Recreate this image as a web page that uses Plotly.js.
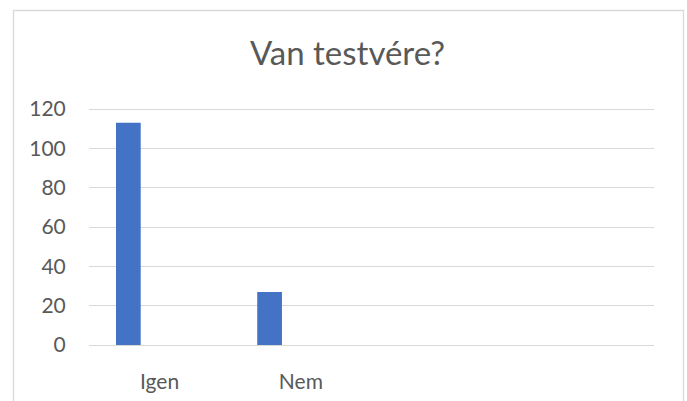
<!DOCTYPE html>
<html>
<head>
<meta charset="utf-8">
<script src="https://cdn.plot.ly/plotly-3.0.1.min.js"></script>
<style>
html,body{margin:0;padding:0;background:#fff;}
#chart{width:687px;height:401px;}
</style>
</head>
<body>
<div id="chart"></div>
<script>
// Data
var categories = ['Igen', 'Nem'];
var values = [113, 27];
var yTickValues = [0, 20, 40, 60, 80, 100, 120];
var chartTitle = 'Van testvére?';

var W = 687, H = 401;
var L = 89, R = 654, T = 107, B = 347;   // plot area (padded 2px top/bottom)
var pad = 2 / ((345 - 109) / 120);        // 2px in data units
var pw = R - L, ph = B - T;
function px2x(p){ return (p - L) / pw; }
function px2y(p){ return (B - p) / ph; }

var trace = {
  type: 'bar',
  x: categories,
  y: values,
  marker: {color: '#4472C4'},
  width: 0.175,
  offset: -0.309,
  hoverinfo: 'x+y'
};

var fontFam = 'Lato, "Open Sans", sans-serif';

var layout = {
  width: W, height: H,
  margin: {l: L, r: W - R, t: T, b: H - B, pad: 0},
  paper_bgcolor: '#ffffff',
  plot_bgcolor: '#ffffff',
  showlegend: false,
  title: {
    text: chartTitle,
    font: {family: fontFam, size: 33, color: '#595959'},
    x: 347.5 / W, xref: 'container', xanchor: 'center',
    y: (H - 65) / H, yref: 'container', yanchor: 'bottom'
  },
  xaxis: {
    type: 'category',
    range: [-0.5, 3.5],
    fixedrange: true,
    showgrid: false,
    zeroline: false,
    showline: false,
    ticks: 'outside', ticklen: 16, tickcolor: 'rgba(0,0,0,0)',
    tickfont: {family: fontFam, size: 21, color: '#595959'}
  },
  yaxis: {
    range: [-pad, 120 + pad],
    fixedrange: true,
    tickvals: yTickValues,
    ticktext: yTickValues.map(String),
    showgrid: true, gridcolor: '#d9d9d9', gridwidth: 1.3,
    zeroline: false,
    showline: false,
    ticks: 'outside', ticklen: 18, tickcolor: 'rgba(0,0,0,0)',
    tickfont: {family: fontFam, size: 21, color: '#595959'}
  },
  shapes: [{
    type: 'rect', xref: 'paper', yref: 'paper',
    x0: px2x(13.5), x1: px2x(683.5), y0: px2y(404), y1: px2y(10.5),
    line: {color: '#d9d9d9', width: 1.3}, fillcolor: 'rgba(0,0,0,0)', layer: 'below'
  }]
};

Plotly.newPlot('chart', [trace], layout, {displayModeBar: false});
</script>
</body>
</html>
